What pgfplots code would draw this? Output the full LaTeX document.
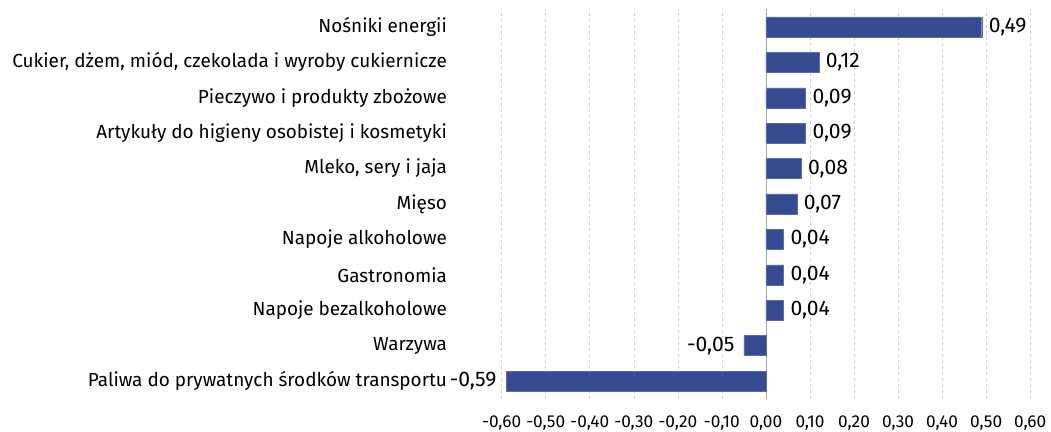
\documentclass[border=0pt]{standalone}
\usepackage{pgfplots}
\pgfplotsset{compat=1.18}
\usepackage{fontspec}
\setmainfont{Fira Sans}
\definecolor{barblue}{HTML}{344A91}
\definecolor{gridgray}{HTML}{D0D0D0}
\begin{document}
\begin{tikzpicture}
\begin{axis}[
  at={(0,0)}, anchor=south west,
  scale only axis,
  width=528.5bp, height=389.4bp,
  xmin=-0.6, xmax=0.6,
  ymin=-0.5, ymax=10.5,
  xbar, bar width=20bp, bar shift=0pt,
  xtick={-0.6,-0.5,-0.4,-0.3,-0.2,-0.1,0,0.1,0.2,0.3,0.4,0.5,0.6},
  ytick={0,1,2,3,4,5,6,7,8,9,10},
  yticklabels={Paliwa do prywatnych środków transportu,Warzywa,Napoje bezalkoholowe,Gastronomia,Napoje alkoholowe,Mięso,{Mleko, sery i jaja},Artykuły do higieny osobistej i kosmetyki,Pieczywo i produkty zbożowe,{Cukier, dżem, miód, czekolada i wyroby cukiernicze},Nośniki energii},
  axis line style={draw=none},
  tick style={draw=none},
  xmajorgrids,
  grid style={gridgray, dashed, line width=0.6pt},
  /pgf/number format/assume math mode=true,
  xticklabel style={font=\fontsize{17.3}{19}\selectfont, yshift=-14bp, /pgf/number format/fixed, /pgf/number format/fixed zerofill, /pgf/number format/precision=2, /pgf/number format/use comma},
  yticklabel style={font=\fontsize{19}{22}\selectfont, xshift=-47bp},
  nodes near coords,
  nodes near coords style={font=\fontsize{21.2}{24}\selectfont, /pgf/number format/fixed, /pgf/number format/fixed zerofill, /pgf/number format/precision=2, /pgf/number format/use comma},
  clip=false,
]
\draw[gray!70, line width=0.7pt] (axis cs:0,-0.5) -- (axis cs:0,10.5);
\addplot[fill=barblue, draw=barblue!80!white, nodes near coords style={anchor=west, xshift=3.5bp}] coordinates {
  (0.49,10) (0.12,9) (0.09,8) (0.09,7) (0.08,6) (0.07,5) (0.04,4) (0.04,3) (0.04,2)
};
\addplot[fill=barblue, draw=barblue!80!white, nodes near coords style={anchor=east, xshift=-6bp}] coordinates {
  (-0.05,1) (-0.59,0)
};
\end{axis}
\pgfresetboundingbox
\useasboundingbox (-501.7bp,-33.3bp) rectangle (549.3bp,398.7bp);
\end{tikzpicture}
\end{document}
